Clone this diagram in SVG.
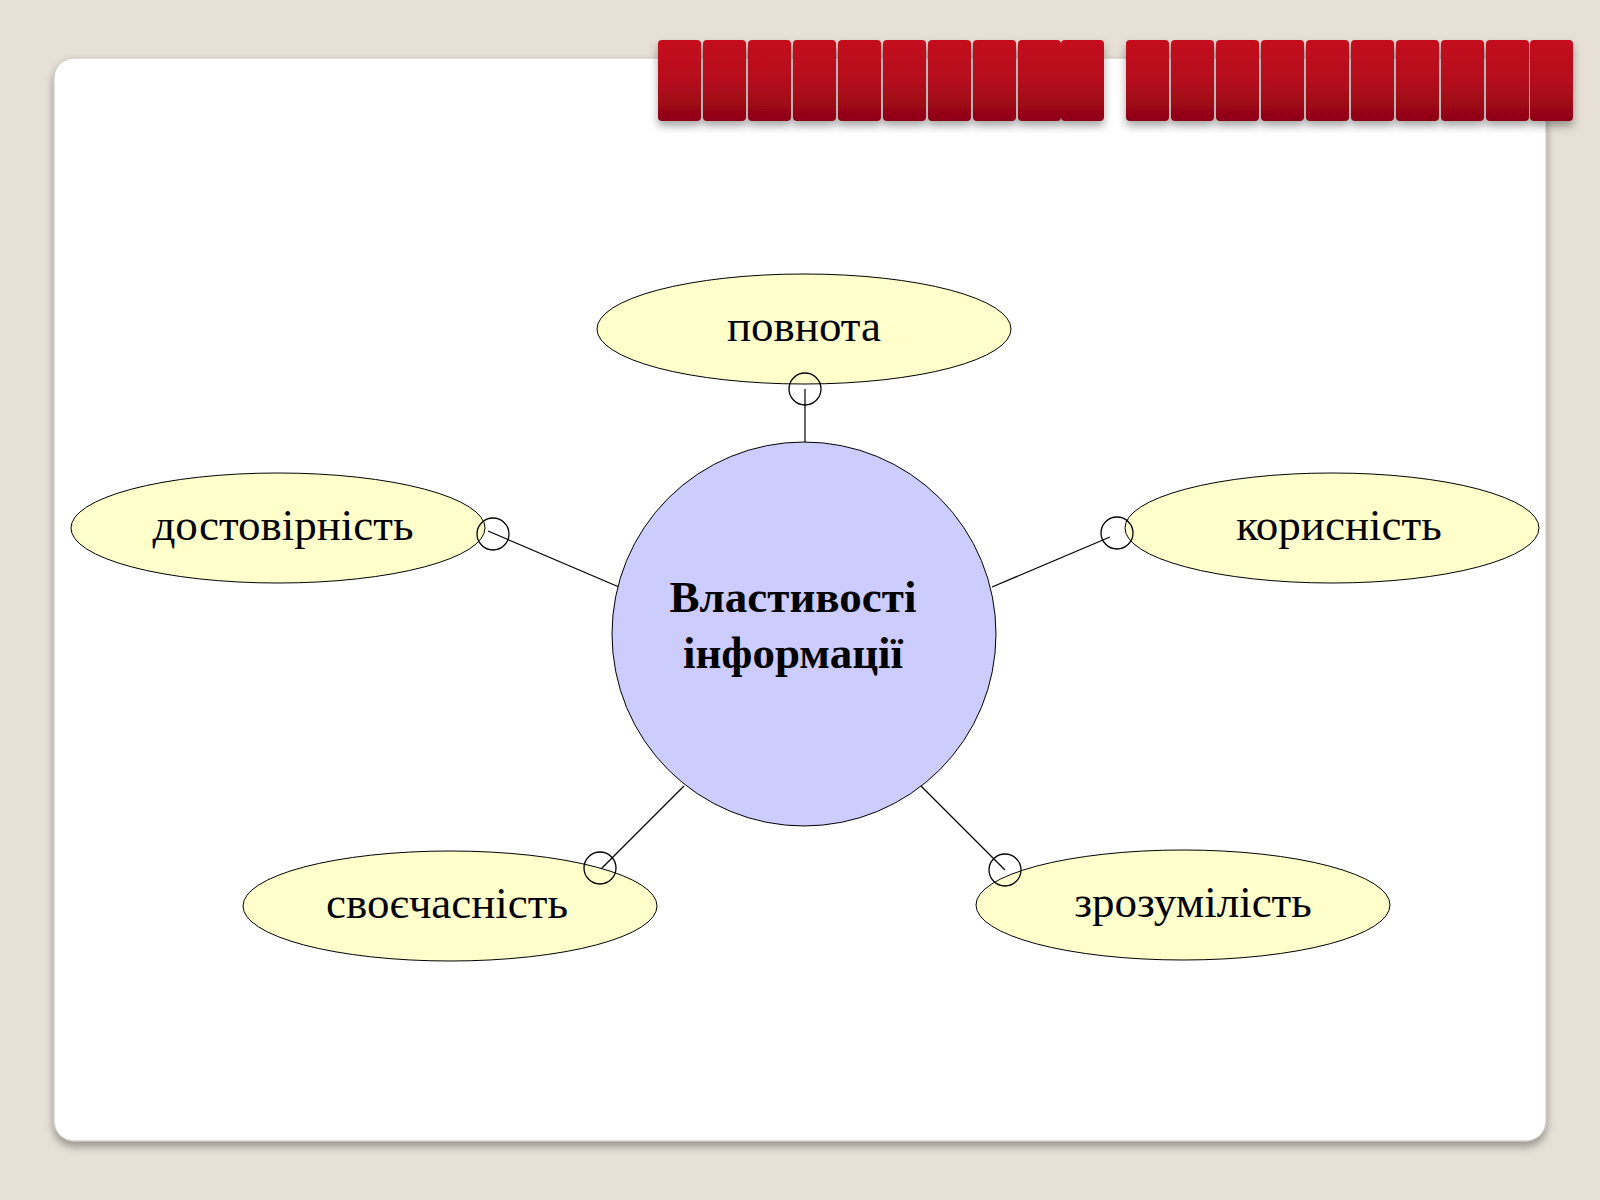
<svg xmlns="http://www.w3.org/2000/svg" width="1600" height="1200" viewBox="0 0 1600 1200">
<defs>
<linearGradient id="red" x1="0" y1="0" x2="0" y2="1"><stop offset="0" stop-color="#c40a1e"/><stop offset="0.5" stop-color="#b50a1c"/><stop offset="1" stop-color="#8e0514"/></linearGradient>
<filter id="sh" x="-10%" y="-10%" width="120%" height="130%"><feDropShadow dx="0" dy="5" stdDeviation="4" flood-color="#000" flood-opacity="0.35"/></filter>
<pattern id="seg" x="658" y="0" width="45" height="100" patternUnits="userSpaceOnUse"><rect x="0.5" y="0" width="43" height="100" rx="4" fill="url(#red)"/></pattern>
</defs>
<style>
.e{fill:#ffffcc;stroke:#000;stroke-width:1}
.k{fill:none;stroke:#000;stroke-width:1.3}
.t{font-family:"Liberation Serif",serif;font-size:45px;fill:#000;text-anchor:middle}
</style>
<rect width="1600" height="1200" fill="#e6e0d6"/>
<rect x="54" y="58" width="1492" height="1083" rx="20" fill="#fff" stroke="#c9c3b8" filter="url(#sh)"/>
<g id="bars" filter="url(#sh)">
<g fill="url(#red)">
<rect x="658" y="40" width="43" height="81" rx="4"/><rect x="703" y="40" width="43" height="81" rx="4"/><rect x="748" y="40" width="43" height="81" rx="4"/><rect x="793" y="40" width="43" height="81" rx="4"/><rect x="838" y="40" width="43" height="81" rx="4"/><rect x="883" y="40" width="43" height="81" rx="4"/><rect x="928" y="40" width="43" height="81" rx="4"/><rect x="973" y="40" width="43" height="81" rx="4"/><rect x="1018" y="40" width="43" height="81" rx="4"/><rect x="1061" y="40" width="43" height="81" rx="4"/>
<rect x="1126" y="40" width="43" height="81" rx="4"/><rect x="1171" y="40" width="43" height="81" rx="4"/><rect x="1216" y="40" width="43" height="81" rx="4"/><rect x="1261" y="40" width="43" height="81" rx="4"/><rect x="1306" y="40" width="43" height="81" rx="4"/><rect x="1351" y="40" width="43" height="81" rx="4"/><rect x="1396" y="40" width="43" height="81" rx="4"/><rect x="1441" y="40" width="43" height="81" rx="4"/><rect x="1486" y="40" width="43" height="81" rx="4"/><rect x="1530" y="40" width="43" height="81" rx="4"/>
</g>
</g>
<g id="connectors" stroke="#000" stroke-width="1.2">
<line x1="805" y1="389" x2="805" y2="442"/>
<line x1="488" y1="531" x2="619" y2="587"/>
<line x1="1110" y1="537" x2="992" y2="587"/>
<line x1="600" y1="870" x2="684" y2="786"/>
<line x1="1005" y1="870" x2="921" y2="786"/>
</g>
<g id="center"><circle cx="804" cy="634" r="192" fill="#ccccff" stroke="#000" stroke-width="1"/>
<text class="t" x="793" y="612" font-weight="bold">Властивості</text><text class="t" x="793" y="668" font-weight="bold">інформації</text></g>
<g id="n1"><ellipse class="e" cx="804" cy="329" rx="207" ry="55"/><text class="t" x="804" y="341">повнота</text><circle class="k" cx="805" cy="389" r="16"/></g>
<g id="n2"><ellipse class="e" cx="278" cy="528" rx="207" ry="55"/><text class="t" x="283" y="540">достовірність</text><circle class="k" cx="493" cy="534" r="16"/></g>
<g id="n3"><ellipse class="e" cx="1332" cy="528" rx="207" ry="55"/><text class="t" x="1339" y="540">корисність</text><circle class="k" cx="1117" cy="533" r="16"/></g>
<g id="n4"><ellipse class="e" cx="450" cy="906" rx="207" ry="55"/><text class="t" x="447" y="918">своєчасність</text><circle class="k" cx="600" cy="868" r="16"/></g>
<g id="n5"><ellipse class="e" cx="1183" cy="905" rx="207" ry="55"/><text class="t" x="1193" y="917">зрозумілість</text><circle class="k" cx="1005" cy="870" r="16"/></g>
</svg>
